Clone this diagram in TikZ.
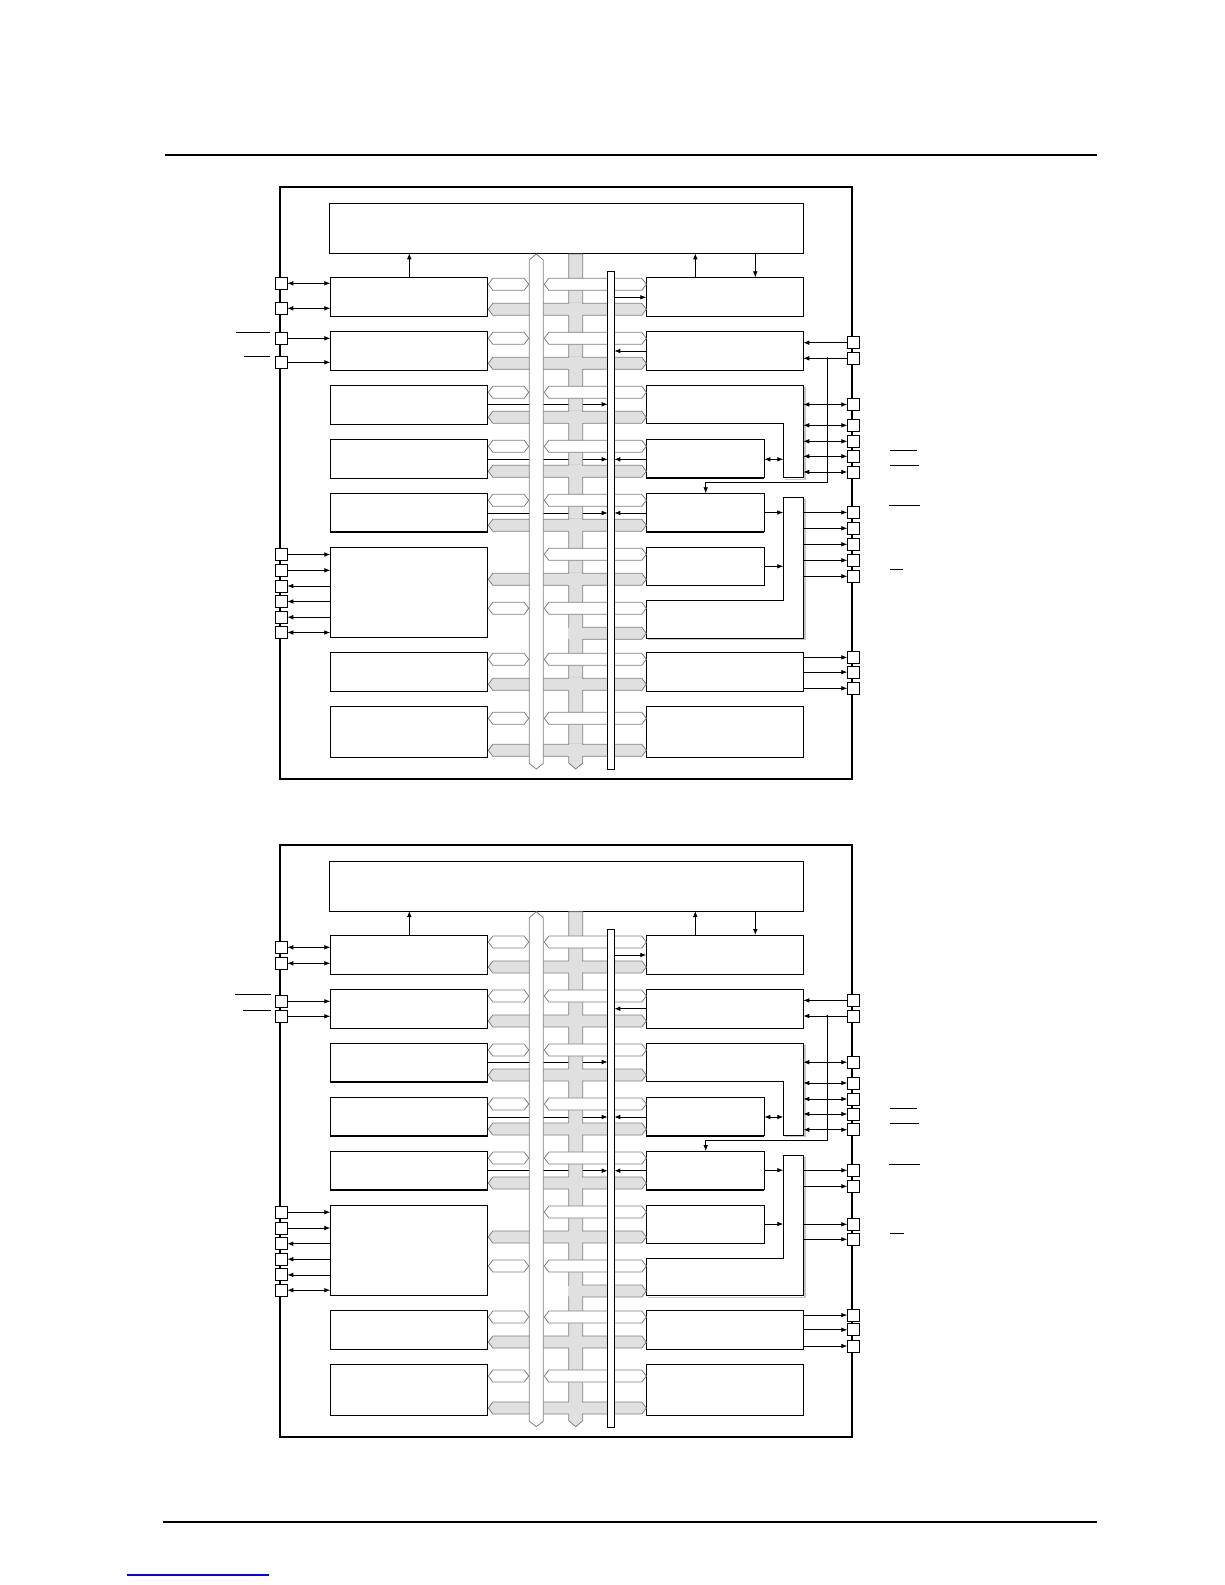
\documentclass[tikz,border=0pt]{standalone}
\usetikzlibrary{arrows.meta,fit}
\definecolor{busgray}{gray}{0.88}
\definecolor{busedge}{gray}{0.5}
\tikzset{
 blk/.style={draw=black, line width=1pt, fill=white, inner sep=0pt, outer sep=0pt},
 pinbox/.style={draw=black, line width=0.9pt, fill=white, minimum size=12pt, inner sep=0pt, outer sep=0pt},
 sig/.style={line width=0.8pt, >={Latex[length=6pt,width=4.6pt]}},
 outerframe/.style={line width=2pt},
 bargray/.style={fill=busgray, draw=busedge, line width=0.8pt},
 barwhite/.style={fill=white, draw=busedge, line width=0.8pt},
 ghost/.style={inner sep=0pt, outer sep=0pt},
 rule/.style={line width=0.8pt},
}
\newcommand\hexbus[4]{%
 \path[#4] (#1,{#3+6}) -- ({#1+4.5},#3) -- ({#2-4.5},#3) -- (#2,{#3+6}) -- ({#2-4.5},{#3+12}) -- ({#1+4.5},{#3+12}) -- cycle;}
\newcommand\halfbus[3]{%
 \path[#3] (582.7,#2) -- ({#1-4.5},#2) -- (#1,{#2+6}) -- ({#1-4.5},{#2+12}) -- (582.7,{#2+12});}
\newcommand\crossfix[1]{%
 \fill[busgray] (568.2,{#1+0.6}) rectangle (583.2,{#1+11.4});
 \fill[busgray] (569.2,{#1-0.6}) rectangle (582.2,{#1+12.6});}
\newcommand\diagbody{%
\draw[outerframe] (280,187) rectangle (852,779);
\node[blk, fit={(329.3,203.3)(803.6,253.3)}] (T) {};
\node[blk, fit={(330.3,277.3)(487.7,316.3)}] (L1) {};
\node[blk, fit={(330.3,331.3)(487.7,370.3)}] (L2) {};
\node[blk, fit={(330.3,385.3)(487.7,424)}] (L3) {};
\node[blk, fit={(330.3,439.3)(487.7,478)}] (L4) {};
\node[blk, fit={(330.3,493.3)(487.7,531.7)}] (L5) {};
\node[blk, fit={(330.3,547.3)(487.7,637.3)}] (L6) {};
\node[blk, fit={(330.3,652.3)(487.7,691.3)}] (L7) {};
\node[blk, fit={(330.3,706.3)(487.7,757.3)}] (L8) {};
\node[blk, fit={(646.3,277.3)(803.3,316.3)}] (R1) {};
\node[blk, fit={(646.3,331.3)(803.3,370.3)}] (R2) {};
\node[ghost, fit={(646.3,385.3)(803.3,477.7)}] (R3) {};
\draw[gray!45, line width=1.2pt] (804.9,387) -- (804.9,479.1) -- (785,479.1);
\draw[blk] (646.3,385.3) -- (803.3,385.3) -- (803.3,477.7) -- (783.3,477.7) -- (783.3,423.3) -- (646.3,423.3) -- cycle;
\coordinate (R3in) at (783.3,423.3);
\node[blk, fit={(646.3,439.3)(764.3,477.7)}] (R4) {};
\node[blk, fit={(646.3,493.3)(764.3,531.7)}] (R5) {};
\node[blk, fit={(646.3,547.3)(764.3,585.3)}] (R6) {};
\node[ghost, fit={(783.3,497.3)(803.3,638)}] (BAR) {};
\draw[gray!45, line width=1.2pt] (804.9,499) -- (804.9,639.4) -- (648,639.4);
\draw[blk] (783.3,497.3) -- (803.3,497.3) -- (803.3,638) -- (646.3,638) -- (646.3,600.3) -- (783.3,600.3) -- cycle;
\node[blk, fit={(646.3,652.3)(803.3,691.3)}] (R7) {};
\node[blk, fit={(646.3,706.3)(803.3,757.3)}] (R8) {};
\foreach \a/\b/\yy in {330.3/487.7/424, 330.3/487.7/478, 330.3/487.7/531.7, 646.3/764.3/477.7, 646.3/764.3/531.7}
  {\draw[line width=1pt] (\a,\yy+0.9) -- (\b,\yy+0.9);}
\node[ghost, fit={(607.7,271.3)(614.3,769.3)}] (C) {};
% pins right
\foreach \n/\yy in {1/342.7, 2/358.3, 3/404.5, 4/425.3, 5/441.3, 6/456.3, 7/472, 11/657.4, 12/672.1, 13/688.3}
  {\node[pinbox] (RP\n) at (853.3,\yy) {};}
\ifnum\dvar=1
  \foreach \n/\yy in {21/512.4, 22/528.3, 23/544.3, 24/560.3, 25/576.3}
    {\node[pinbox] (RP\n) at (853.3,\yy) {};}
  \foreach \n in {21,...,25} {\draw[sig,->] (RP\n -| BAR.east) -- (RP\n);}
  \foreach \n/\yy in {1/283.3, 2/308.3, 3/338.3, 4/362.3}
    {\node[pinbox] (LP\n) at (281.3,\yy) {};}
  \draw[rule] (235.5,332) -- (270,332);
  \draw[rule] (243.6,356) -- (270,356);
  \draw[rule] (890,569) -- (903,569);
  \draw[rule] (889,505) -- (920,505);
\else
  \foreach \n/\yy in {21/512.6, 22/528.6, 24/566.6, 25/581.6}
    {\node[pinbox] (RP\n) at (853.3,\yy) {};}
  \foreach \n in {21,22,24,25} {\draw[sig,->] (RP\n -| BAR.east) -- (RP\n);}
  \foreach \n/\yy in {1/289.6, 2/305.6, 3/343.6, 4/358.6}
    {\node[pinbox] (LP\n) at (281.3,\yy) {};}
  \draw[rule] (235,336.6) -- (270.5,336.6);
  \draw[rule] (243,352.3) -- (270.5,352.3);
  \draw[rule] (890,575.6) -- (904,575.6);
  \draw[rule] (889,506.3) -- (920,506.3);
\fi
\draw[rule] (890,450.3) -- (916.7,450.3);
\draw[rule] (890,465.3) -- (919,465.3);
\foreach \n/\yy in {1/554.5, 2/570.3, 3/586, 4/601.5, 5/617.2, 6/632.5}
  {\node[pinbox] (LQ\n) at (281.3,\yy) {};}
% left connectors
\draw[sig,<->] (LP1) -- (LP1 -| L1.west);
\draw[sig,<->] (LP2) -- (LP2 -| L1.west);
\draw[sig,->] (LP3) -- (LP3 -| L2.west);
\draw[sig,->] (LP4) -- (LP4 -| L2.west);
\draw[sig,->] (LQ1) -- (LQ1 -| L6.west);
\draw[sig,->] (LQ2) -- (LQ2 -| L6.west);
\draw[sig,<-] (LQ3) -- (LQ3 -| L6.west);
\draw[sig,<-] (LQ4) -- (LQ4 -| L6.west);
\draw[sig,<-] (LQ5) -- (LQ5 -| L6.west);
\draw[sig,<->] (LQ6) -- (LQ6 -| L6.west);
% right connectors
\draw[sig,->] (RP1) -- (RP1 -| R2.east);
\draw[sig,->] (RP2) -- (RP2 -| R2.east);
\foreach \n in {3,...,7} {\draw[sig,<->] (RP\n) -- (RP\n -| R3.east);}
\foreach \n in {11,12,13} {\draw[sig,->] (RP\n -| R7.east) -- (RP\n);}
\coordinate (J) at (827.3,358.3);
\fill (J) circle (1.1pt);
\draw[sig,->] (J) -- (827.3,482.3) -- (705.7,482.3) -- (R5.north -| 705.7,0);
% top connectors
\draw[sig,->] (L1.north -| 409.3,0) -- (T.south -| 409.3,0);
\draw[sig,->] (R1.north -| 695.3,0) -- (T.south -| 695.3,0);
\draw[sig,->] (T.south -| 755.3,0) -- (R1.north -| 755.3,0);
% bus connectors
\draw[sig,->] (C.east |- 0,297.3) -- (R1.west |- 0,297.3);
\draw[sig,->] (R2.west |- 0,351) -- (C.east |- 0,351);
\draw[sig,->] (L3.east |- 0,404.3) -- (C.west |- 0,404.3);
\draw[sig,->] (L4.east |- 0,459.3) -- (C.west |- 0,459.3);
\draw[sig,->] (R4.west |- 0,459.3) -- (C.east |- 0,459.3);
\draw[sig,->] (L5.east |- 0,513) -- (C.west |- 0,513);
\draw[sig,->] (R5.west |- 0,513) -- (C.east |- 0,513);
\draw[sig,<->] (R4.east |- 0,459.3) -- (R3in |- 0,459.3);
\draw[sig,->] (R5.east |- 0,512.5) -- (BAR.west |- 0,512.5);
\draw[sig,->] (R6.east |- 0,566.3) -- (BAR.west |- 0,566.3);
% buses
\path[bargray] (568.7,254) -- (582.7,254) -- (582.7,763) -- (575.7,769) -- (568.7,763) -- cycle;
\foreach \yy in {303.3,357.3,411.3,465.3,519.3,573.3,678.3,744.3} {\hexbus{488.3}{646.3}{\yy}{bargray}}
\halfbus{646.3}{627.3}{bargray}
\foreach \yy in {303.3,357.3,411.3,465.3,519.3,573.3,627.3,678.3,744.3} {\crossfix{\yy}}
\foreach \yy in {278.3,332.3,386.3,440.3,494.3,602.3,653.3,712.3} {\hexbus{488.3}{528.7}{\yy}{barwhite}}
\foreach \yy in {278.3,332.3,386.3,440.3,494.3,548.3,602.3,653.3,712.3} {\hexbus{544.3}{646.3}{\yy}{barwhite}}
\path[barwhite] (529.3,260) -- (536.3,254) -- (543.3,260) -- (543.3,763.5) -- (536.3,769) -- (529.3,763.5) -- cycle;
\draw[blk, line width=0.9pt] (C.south west) rectangle (C.north east);
}
\begin{document}
\begin{tikzpicture}[x=1pt,y=-1pt]
\useasboundingbox (0,0) rectangle (1225,1585);
\fill[white] (0,0) rectangle (1225,1585);
\draw[line width=1.6pt] (165,155) -- (1097,155);
\draw[line width=1.2pt] (163,1522) -- (1097,1522);
\draw[blue, line width=1.2pt] (127,1575) -- (269,1575);
\def\dvar{1}
\begin{scope}[name prefix=a-]
\diagbody
\end{scope}
\def\dvar{2}
\begin{scope}[yshift=-657.7pt, name prefix=b-]
\diagbody
\end{scope}
\end{tikzpicture}
\end{document}
